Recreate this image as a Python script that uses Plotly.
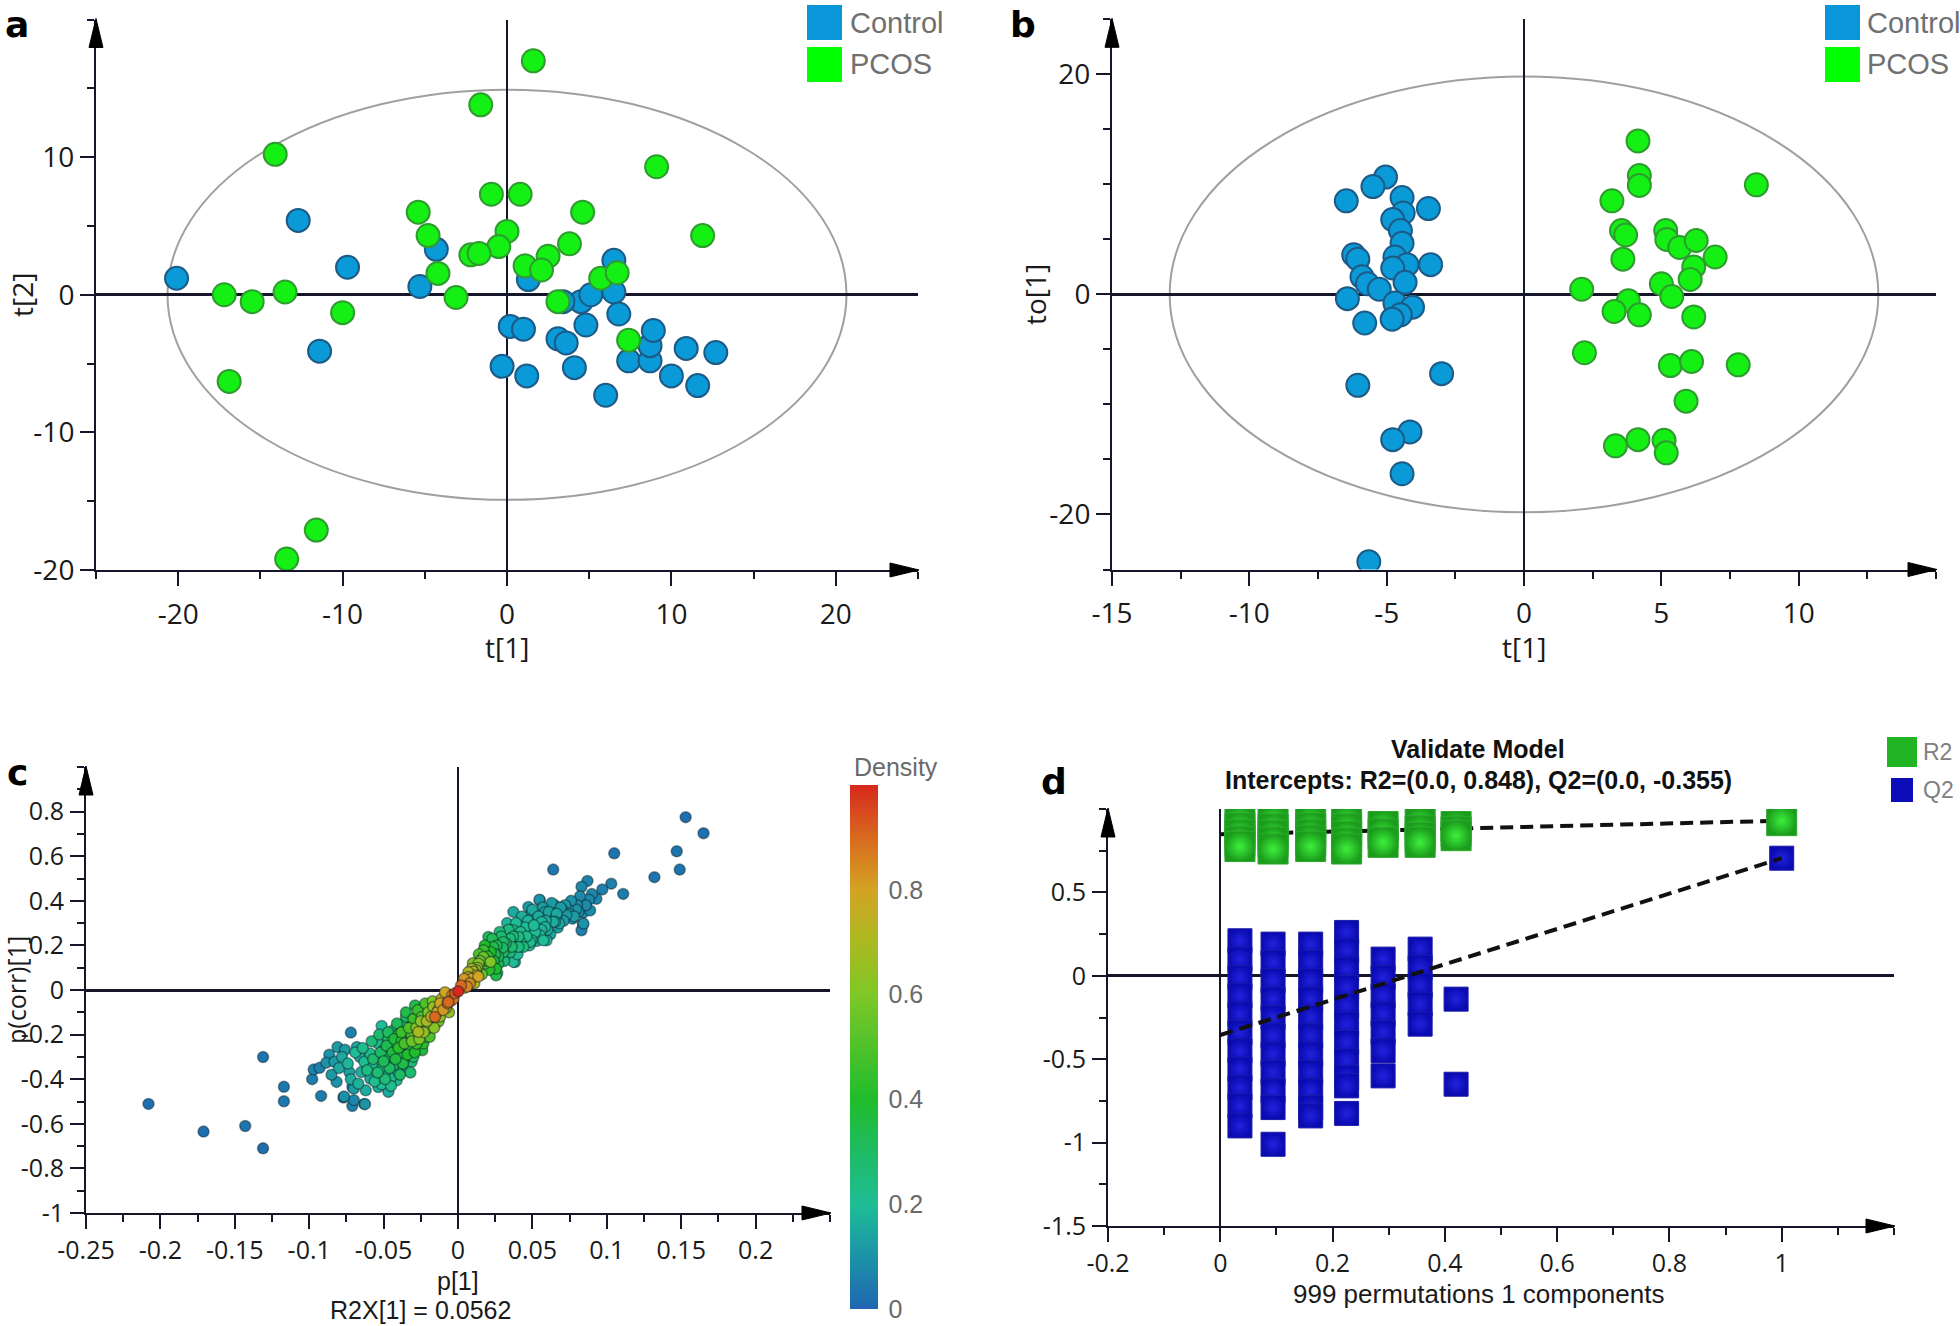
import plotly.graph_objects as go
import numpy as np

W, H = 1960, 1326
OFF = 0   # body margin is removed by the post script below

# ---------------- Panel a : PCA score plot ----------------
A_CTRL_T1 = [-20.1, -12.7, -9.7, -11.4, -5.3, -4.3, 1.3, 0.2, 1.0, -0.3, 1.2, 3.1, 3.6, 4.1, 4.8,
             4.5, 5.1, 3.4, 6.5, 6.5, 6.8, 6.0, 7.4, 8.7, 8.7, 8.9, 10.0, 10.9, 11.6, 12.7]
A_CTRL_T2 = [1.2, 5.4, 2.0, -4.1, 0.6, 3.3, 1.1, -2.3, -2.5, -5.2, -5.9, -3.2, -3.5, -5.3, -2.2,
             -0.5, 0.0, -0.5, 2.5, 0.2, -1.4, -7.3, -4.8, -4.8, -3.7, -2.6, -5.9, -3.9, -6.6, -4.2]
A_PCOS_T1 = [1.6, -1.6, -14.1, 9.1, -0.95, 0.8, -5.4, 4.6, -4.8, 0.0, -0.5, 11.9, 3.8, -2.2, -1.7, 2.5,
             1.1, 2.1, -4.2, 5.7, 6.7, -17.2, -15.5, -13.5, -3.1, -10.0, 3.1, 7.4, -16.9, -11.6, -13.4]
A_PCOS_T2 = [17.0, 13.8, 10.2, 9.3, 7.3, 7.3, 6.0, 6.0, 4.3, 4.6, 3.5, 4.3, 3.7, 2.9, 3.0, 2.8,
             2.1, 1.8, 1.55, 1.2, 1.6, 0.0, -0.5, 0.2, -0.2, -1.3, -0.5, -3.3, -6.3, -17.1, -19.2]
A_ELLIPSE = [20.65, 14.9]          # Hotelling T2 (95%) semi-axes
A_XTICKS = [-20, -10, 0, 10, 20]
A_XTEXT = ['-20', '-10', '0', '10', '20']
A_YTICKS = [-20, -10, 0, 10]
A_YTEXT = ['-20', '-10', '0', '10']

# ---------------- Panel b : OPLS-DA score plot ----------------
B_CTRL_T1 = [-5.04, -5.5, -6.47, -4.44, -4.4, -3.48, -4.78, -4.5, -4.44, -6.2, -6.05, -4.7, -4.26, -3.4,
             -4.78, -5.9, -5.7, -5.27, -4.33, -6.43, -4.7, -4.06, -4.5, -4.8, -5.8, -3.0, -6.05, -4.15,
             -4.78, -4.44, -5.65]
B_CTRL_TO1 = [10.66, 9.8, 8.5, 8.8, 7.4, 7.8, 6.8, 5.8, 4.65, 3.6, 3.2, 3.4, 2.7, 2.7, 2.4, 1.6, 0.97,
              0.47, 1.1, -0.39, -0.78, -1.16, -1.86, -2.25, -2.6, -7.2, -8.26, -12.5, -13.2, -16.3, -24.3]
B_PCOS_T1 = [4.15, 4.2, 4.2, 8.46, 3.2, 3.55, 3.7, 5.16, 5.2, 5.67, 6.27, 6.96, 3.6, 6.18, 6.05, 5.0,
             5.38, 2.1, 3.8, 3.28, 4.2, 6.18, 2.2, 5.33, 6.1, 7.8, 5.9, 3.33, 4.15, 5.1, 5.18]
B_PCOS_TO1 = [13.95, 10.8, 9.9, 9.96, 8.5, 5.8, 5.4, 5.8, 5.0, 4.26, 4.9, 3.4, 3.2, 2.5, 1.36, 0.97,
              -0.19, 0.47, -0.58, -1.55, -1.86, -2.05, -5.3, -6.47, -6.1, -6.4, -9.7, -13.76, -13.2,
              -13.26, -14.4]
B_ELLIPSE = [12.9, 19.8]
B_XTICKS = [-15, -10, -5, 0, 5, 10]
B_XTEXT = ['-15', '-10', '-5', '0', '5', '10']
B_YTICKS = [-20, 0, 20]
B_YTEXT = ['-20', '0', '20']

# ---------------- Panel c : S-plot (p[1], p(corr)[1], density) ----------------
# outliers
C_P1_OUT = [-0.208, -0.171, -0.143, -0.131, -0.131, -0.117, -0.117, -0.098, -0.097, -0.093, -0.092, -0.072,
            -0.077, -0.071, -0.071, -0.070, -0.063,
            0.153, 0.165, 0.147, 0.149, 0.105, 0.064, 0.132, 0.111, 0.103, 0.087, 0.083, 0.097, 0.093, 0.088,
            0.084, 0.084, 0.083, 0.055]
C_PCORR_OUT = [-0.511, -0.635, -0.610, -0.710, -0.301, -0.434, -0.499, -0.400, -0.357, -0.349, -0.475,
               -0.191, -0.482, -0.520, -0.434, -0.494, -0.511,
               0.775, 0.703, 0.622, 0.540, 0.613, 0.540, 0.506, 0.431, 0.477, 0.489, 0.463, 0.451, 0.409,
               0.405, 0.346, 0.295, 0.268, 0.402]
C_DENS_OUT = [0.02, 0.02, 0.03, 0.02, 0.03, 0.04, 0.04, 0.05, 0.06, 0.06, 0.05, 0.06, 0.07, 0.06, 0.08,
              0.07, 0.07,
              0.02, 0.02, 0.03, 0.03, 0.03, 0.04, 0.03, 0.05, 0.06, 0.06, 0.07, 0.06, 0.07, 0.08, 0.08, 0.06,
              0.06, 0.07]
# lower (negative) band
C_P1_NEG = [-0.0865, -0.081, -0.076, -0.0885, -0.083, -0.0816, -0.0765, -0.070, -0.0625, -0.068, -0.073,
            -0.065, -0.059, -0.0536, -0.0513, -0.0468, -0.066,
            -0.063, -0.059, -0.0536, -0.0513, -0.0573, -0.0506, -0.0446, -0.0412, -0.0401, -0.0435, -0.0457,
            -0.0424, -0.0468, -0.0435, -0.0368, -0.0357, -0.0345, -0.0312, -0.0368, -0.029, -0.0278, -0.0289,
            -0.0379, -0.0312, -0.0237, -0.0244, -0.0278, -0.021, -0.0188, -0.0267, -0.0278, -0.0233, -0.020,
            -0.0166, -0.0133, -0.011, -0.0087, -0.004, -0.0155, -0.0065, 0.0002,
            -0.045, -0.038, -0.033, -0.025, -0.015, -0.012, -0.008, -0.005, -0.02, -0.03, -0.035, -0.04,
            -0.05, -0.055, -0.06, -0.048, -0.037, -0.03,
            -0.085, -0.080, -0.078, -0.074, -0.072, -0.069, -0.067, -0.064, -0.062, -0.061, -0.058, -0.057,
            -0.056, -0.054, -0.053, -0.052, -0.050, -0.049, -0.048, -0.047, -0.046, -0.045, -0.044, -0.043,
            -0.042, -0.041, -0.040, -0.039, -0.038, -0.037, -0.036, -0.035, -0.034, -0.033, -0.032, -0.031,
            -0.030, -0.029, -0.028, -0.027, -0.026, -0.025, -0.024, -0.023, -0.022, -0.021, -0.019, -0.018,
            -0.017, -0.016, -0.014, -0.013, -0.012, -0.010, -0.009, -0.007, -0.006, -0.003, -0.002]
C_PCORR_NEG = [-0.290, -0.256, -0.268, -0.326, -0.322, -0.412, -0.478, -0.442, -0.512, -0.256, -0.368,
               -0.368, -0.397, -0.435, -0.423, -0.457, -0.300,
               -0.322, -0.285, -0.240, -0.161, -0.345, -0.345, -0.390, -0.405, -0.368, -0.337, -0.292, -0.262,
               -0.222, -0.181, -0.154, -0.218, -0.278, -0.322, -0.322, -0.256, -0.203, -0.069, -0.226, -0.203,
               -0.166, -0.121, -0.121, -0.211, -0.166, -0.188, -0.241, -0.240, -0.100, -0.076, -0.090, -0.039,
               -0.010, -0.024, -0.121, -0.054, -0.006,
               -0.31, -0.29, -0.25, -0.20, -0.15, -0.12, -0.08, -0.05, -0.17, -0.15, -0.12, -0.20, -0.27,
               -0.30, -0.34, -0.36, -0.36, -0.30,
               -0.38, -0.35, -0.30, -0.33, -0.40, -0.28, -0.42, -0.26, -0.45, -0.36, -0.23, -0.31,
               -0.41, -0.37, -0.20, -0.28, -0.32, -0.40, -0.25, -0.19, -0.35, -0.43, -0.28, -0.22,
               -0.31, -0.15, -0.26, -0.38, -0.19, -0.33, -0.24, -0.10, -0.29, -0.17, -0.37, -0.23,
               -0.13, -0.28, -0.17, -0.09, -0.22, -0.14, -0.27, -0.19, -0.06, -0.14, -0.21, -0.12,
               -0.05, -0.17, -0.10, -0.14, -0.06, -0.09, -0.03, -0.06, -0.10, -0.04, -0.015]
C_DENS_NEG = [0.10, 0.12, 0.12, 0.10, 0.12, 0.10, 0.09, 0.12, 0.10, 0.15, 0.14, 0.17, 0.16, 0.18, 0.20,
              0.15, 0.16,
              0.20, 0.22, 0.24, 0.20, 0.22, 0.25, 0.22, 0.20, 0.26, 0.30, 0.30, 0.32, 0.30, 0.28, 0.30, 0.38,
              0.30, 0.26, 0.28, 0.35, 0.45, 0.35, 0.40, 0.50, 0.55, 0.50, 0.45, 0.50, 0.62, 0.70, 0.45, 0.42,
              0.60, 0.65, 0.75, 0.78, 0.80, 0.85, 0.90, 0.90, 1.00,
              0.25, 0.30, 0.35, 0.50, 0.55, 0.65, 0.72, 0.80, 0.60, 0.40, 0.30, 0.35, 0.25, 0.20, 0.18, 0.22,
              0.23, 0.30,
              0.12, 0.15, 0.15, 0.18, 0.16, 0.20, 0.17, 0.22, 0.16, 0.24, 0.25, 0.28,
              0.22, 0.27, 0.28, 0.30, 0.32, 0.26, 0.33, 0.30, 0.30, 0.22, 0.36, 0.38,
              0.36, 0.32, 0.42, 0.30, 0.45, 0.35, 0.48, 0.35, 0.40, 0.50, 0.28, 0.55,
              0.45, 0.40, 0.60, 0.45, 0.60, 0.62, 0.38, 0.65, 0.50, 0.70, 0.50, 0.72,
              0.60, 0.62, 0.78, 0.60, 0.80, 0.82, 0.75, 0.86, 0.65, 0.88, 0.92]
# upper (positive) band
C_P1_POS = [0.0036, 0.0069, 0.0126, 0.0092, 0.0137, 0.017, 0.0182, 0.0172, 0.0237, 0.0256, 0.0256, 0.0204,
            0.0305, 0.0305, 0.0372, 0.0383, 0.0361, 0.042, 0.0439, 0.0495, 0.0495, 0.055, 0.0595, 0.0562,
            0.064, 0.068, 0.0372, 0.0473, 0.0495, 0.0547, 0.0585, 0.0663, 0.072, 0.0741, 0.081, 0.0888,
            0.0843, 0.0652, 0.0574, 0.0518, 0.0484, 0.0406, 0.0406, 0.0372, 0.0271, 0.0264, 0.0174, 0.0219,
            0.0136, 0.0103, 0.0058, 0.0045, 0.008, 0.012, 0.015, 0.02, 0.025, 0.03, 0.035, 0.045, 0.033,
            0.028, 0.06, 0.07, 0.078, 0.065, 0.0717, 0.0728, 0.0795, 0.0585,
            0.002, 0.004, 0.006, 0.007, 0.009, 0.010, 0.011, 0.013, 0.014, 0.016, 0.018, 0.019,
            0.021, 0.022, 0.023, 0.024, 0.026, 0.027, 0.029, 0.031, 0.032, 0.034, 0.035, 0.037,
            0.039, 0.040, 0.042, 0.043, 0.046, 0.047, 0.048, 0.050, 0.051, 0.053, 0.054, 0.056,
            0.057, 0.059, 0.061, 0.062, 0.063, 0.066, 0.067, 0.069, 0.071, 0.074, 0.076, 0.077,
            0.080, 0.082, 0.086, 0.090]
C_PCORR_POS = [0.036, 0.058, 0.066, 0.095, 0.118, 0.148, 0.118, 0.178, 0.193, 0.095, 0.066, 0.238, 0.215,
               0.170, 0.268, 0.125, 0.193, 0.215, 0.193, 0.268, 0.223, 0.245, 0.223, 0.305, 0.305, 0.298,
               0.350, 0.372, 0.342, 0.405, 0.350, 0.342, 0.380, 0.342, 0.350, 0.357, 0.298, 0.306, 0.223,
               0.260, 0.215, 0.238, 0.193, 0.126, 0.117, 0.076, 0.171, 0.126, 0.060, 0.083, 0.038, 0.010,
               0.030, 0.090, 0.130, 0.150, 0.160, 0.190, 0.230, 0.280, 0.300, 0.260, 0.270, 0.360, 0.330,
               0.380, 0.376, 0.336, 0.361, 0.283,
               0.02, 0.05, 0.015, 0.08, 0.05, 0.12, 0.03, 0.10, 0.16, 0.07, 0.20, 0.13,
               0.09, 0.17, 0.23, 0.13, 0.20, 0.15, 0.24, 0.13, 0.21, 0.27, 0.17, 0.24,
               0.30, 0.16, 0.26, 0.33, 0.24, 0.31, 0.20, 0.36, 0.29, 0.22, 0.33, 0.27,
               0.37, 0.31, 0.35, 0.25, 0.39, 0.33, 0.28, 0.37, 0.31, 0.36, 0.40, 0.32,
               0.38, 0.42, 0.38, 0.43]
C_DENS_POS = [0.80, 0.78, 0.76, 0.70, 0.62, 0.55, 0.50, 0.45, 0.35, 0.40, 0.35, 0.30, 0.30, 0.30, 0.22, 0.20,
              0.28, 0.25, 0.25, 0.20, 0.22, 0.20, 0.18, 0.18, 0.16, 0.15, 0.15, 0.12, 0.14, 0.10, 0.14, 0.15,
              0.12, 0.12, 0.10, 0.08, 0.10, 0.15, 0.20, 0.20, 0.22, 0.25, 0.25, 0.20, 0.30, 0.22, 0.40, 0.60,
              0.80, 0.72, 0.75, 0.82, 0.85, 0.68, 0.55, 0.45, 0.35, 0.30, 0.26, 0.20, 0.18, 0.25, 0.18, 0.12,
              0.12, 0.12, 0.10, 0.12, 0.10, 0.18,
              0.90, 0.82, 0.85, 0.72, 0.78, 0.60, 0.70, 0.62, 0.50, 0.55, 0.40, 0.50,
              0.42, 0.40, 0.32, 0.38, 0.32, 0.32, 0.28, 0.25, 0.28, 0.24, 0.26, 0.25,
              0.20, 0.20, 0.22, 0.17, 0.22, 0.18, 0.20, 0.15, 0.20, 0.18, 0.16, 0.18,
              0.13, 0.16, 0.14, 0.15, 0.12, 0.14, 0.14, 0.12, 0.12, 0.11, 0.10, 0.10,
              0.09, 0.08, 0.08, 0.07]
C_R2X = 0.0562
C_XTICKS = [-0.25, -0.2, -0.15, -0.1, -0.05, 0, 0.05, 0.1, 0.15, 0.2]
C_XTEXT = ['-0.25', '-0.2', '-0.15', '-0.1', '-0.05', '0', '0.05', '0.1', '0.15', '0.2']
C_YTICKS = [-1, -0.8, -0.6, -0.4, -0.2, 0, 0.2, 0.4, 0.6, 0.8]
C_YTEXT = ['-1', '-0.8', '-0.6', '-0.4', '-0.2', '0', '0.2', '0.4', '0.6', '0.8']
CB_TICKS = [0, 0.2, 0.4, 0.6, 0.8]
CB_TEXT = ['0', '0.2', '0.4', '0.6', '0.8']

# ---------------- Panel d : permutation test ----------------
D_R2_X = [0.035] * 5 + [0.094] * 5 + [0.161] * 5 + [0.225] * 5 + [0.29] * 3 + [0.356] * 4 + [0.42] * 3
D_R2_Y = [0.925, 0.885, 0.845, 0.805, 0.775,
          0.925, 0.88, 0.84, 0.80, 0.76,
          0.925, 0.885, 0.845, 0.81, 0.775,
          0.925, 0.88, 0.835, 0.795, 0.76,
          0.895, 0.85, 0.80,
          0.915, 0.87, 0.83, 0.80,
          0.895, 0.865, 0.84]
D_Q2_X = [0.035] * 11 + [0.094] * 11 + [0.161] * 11 + [0.225] * 11 + [0.29] * 7 + [0.356] * 5 + [0.42] * 2
D_Q2_Y = [0.21, 0.10, -0.01, -0.12, -0.23, -0.34, -0.45, -0.56, -0.67, -0.78, -0.90,
          0.19, 0.08, -0.03, -0.14, -0.25, -0.36, -0.47, -0.58, -0.69, -0.79, -1.01,
          0.19, 0.08, -0.03, -0.14, -0.25, -0.36, -0.47, -0.58, -0.69, -0.79, -0.84,
          0.26, 0.15, 0.04, -0.07, -0.18, -0.29, -0.40, -0.51, -0.61, -0.66, -0.825,
          0.10, -0.01, -0.12, -0.23, -0.34, -0.45, -0.60,
          0.16, 0.05, -0.06, -0.17, -0.29,
          -0.14, -0.65]
D_R2_ORIG = [1.0, 0.93]
D_Q2_ORIG = [1.0, 0.705]
D_R2_INTERCEPT = 0.848
D_Q2_INTERCEPT = -0.355
D_XTICKS = [-0.2, 0, 0.2, 0.4, 0.6, 0.8, 1]
D_XTEXT = ['-0.2', '0', '0.2', '0.4', '0.6', '0.8', '1']
D_YTICKS = [-1.5, -1, -0.5, 0, 0.5]
D_YTEXT = ['-1.5', '-1', '-0.5', '0', '0.5']
D_PERMS = 999

# ---------------- styling ----------------
AX = '#16162a'
TICKFONT = 'Open Sans, Liberation Sans, Arial, sans-serif'
ARIAL = 'Liberation Sans, Arial, sans-serif'
BLUE_FILL, BLUE_LINE = '#0a9ad8', '#1d5a86'
GREEN_FILL, GREEN_LINE = '#14f014', '#2e9c2e'


def px(x):
    return (x - OFF) / W


def py(y):
    return 1 - (y - OFF) / H


# panel geometry in pixels (left, right, top, bottom)
GEOM = {
    'a': (96, 918, 19.5, 570),
    'b': (1112, 1936, 19.3, 569.5),
    'c': (86, 830, 767, 1213),
    'd': (1108, 1894, 809, 1226),
}


def axis(dom, rng, tickvals, ticktext, size, minor_dtick, minor_tick0, anchor, zw, standoff):
    return dict(
        domain=dom, range=rng, anchor=anchor, autorange=False, automargin=False,
        showline=True, linecolor=AX, linewidth=2,
        ticks='outside', ticklen=14, tickwidth=2, tickcolor=AX,
        tickmode='array', tickvals=tickvals, ticktext=ticktext,
        tickfont=dict(family=TICKFONT, size=size, color='#1a1a1a'),
        ticklabelstandoff=standoff,
        showgrid=False, zeroline=True, zerolinecolor=AX, zerolinewidth=zw,
        minor=dict(tickmode='linear', tick0=minor_tick0, dtick=minor_dtick,
                   ticks='outside', ticklen=7, tickwidth=1.5, tickcolor=AX, showgrid=False),
    )


def xdom(k):
    l, r, t, b = GEOM[k]
    return [px(l), px(r)]


def ydom(k):
    l, r, t, b = GEOM[k]
    return [py(b), py(t)]


fig = go.Figure()

# ---- panel a traces
fig.add_trace(go.Scatter(x=A_CTRL_T1, y=A_CTRL_T2, mode='markers', xaxis='x', yaxis='y',
                         marker=dict(size=23, color=BLUE_FILL, line=dict(color=BLUE_LINE, width=2)),
                         name='Control', showlegend=False))
fig.add_trace(go.Scatter(x=A_PCOS_T1, y=A_PCOS_T2, mode='markers', xaxis='x', yaxis='y',
                         marker=dict(size=23, color=GREEN_FILL, line=dict(color=GREEN_LINE, width=2)),
                         name='PCOS', showlegend=False))
# ---- panel b traces
fig.add_trace(go.Scatter(x=B_CTRL_T1, y=B_CTRL_TO1, mode='markers', xaxis='x2', yaxis='y2',
                         marker=dict(size=23, color=BLUE_FILL, line=dict(color=BLUE_LINE, width=2)),
                         name='Control', showlegend=False))
fig.add_trace(go.Scatter(x=B_PCOS_T1, y=B_PCOS_TO1, mode='markers', xaxis='x2', yaxis='y2',
                         marker=dict(size=23, color=GREEN_FILL, line=dict(color=GREEN_LINE, width=2)),
                         name='PCOS', showlegend=False))

# ---- panel c trace (sorted so dense points are on top)
c_p1 = np.array(C_P1_OUT + C_P1_NEG + C_P1_POS)
c_pc = np.array(C_PCORR_OUT + C_PCORR_NEG + C_PCORR_POS)
c_d = np.array(C_DENS_OUT + C_DENS_NEG + C_DENS_POS)
order = np.argsort(c_d, kind='stable')
COLORSCALE = [[0.0, '#1f66b2'], [0.1, '#1c93a8'], [0.2, '#1fbd96'], [0.3, '#1fbb62'],
              [0.4, '#1fbd2c'], [0.5, '#4fc22a'], [0.6, '#7fc726'], [0.7, '#aab922'],
              [0.8, '#d3a323'], [0.9, '#d9691f'], [1.0, '#d7281e']]
l, r, t, b = 850, 878, 785, 1309
fig.add_trace(go.Scatter(
    x=c_p1[order], y=c_pc[order], mode='markers', xaxis='x3', yaxis='y3', showlegend=False,
    marker=dict(size=11, color=c_d[order], colorscale=COLORSCALE, cmin=0, cmax=1,
                line=dict(color='rgba(10,30,40,0.45)', width=1.5),
                colorbar=dict(x=px(l), xanchor='left', y=py(b), yanchor='bottom',
                              lenmode='pixels', len=b - t, thicknessmode='pixels', thickness=r - l,
                              xpad=0, ypad=0, outlinewidth=0, tickmode='array',
                              tickvals=CB_TICKS, ticktext=CB_TEXT, ticks='outside', ticklen=6,
                              tickcolor='rgba(0,0,0,0)',
                              tickfont=dict(family=ARIAL, size=25, color='#6a6a6a'))),
))

# ---- panel d traces
QMARK = dict(symbol='square', size=24, color='#0a0ab0', gradient=dict(type='radial', color='#2222dd'),
             line=dict(color='#1a1aa8', width=1))
fig.add_trace(go.Scatter(x=D_Q2_X, y=D_Q2_Y, mode='markers', xaxis='x4', yaxis='y4', showlegend=False,
                         marker=QMARK))
fig.add_trace(go.Scatter(x=[D_Q2_ORIG[0]], y=[D_Q2_ORIG[1]], mode='markers', xaxis='x4', yaxis='y4',
                         showlegend=False, marker=QMARK))
fig.add_trace(go.Scatter(x=[0, D_R2_ORIG[0]], y=[D_R2_INTERCEPT, D_R2_ORIG[1]], mode='lines',
                         xaxis='x4', yaxis='y4', showlegend=False,
                         line=dict(color='#111111', width=4, dash='13px,7px')))
fig.add_trace(go.Scatter(x=[0, D_Q2_ORIG[0]], y=[D_Q2_INTERCEPT, D_Q2_ORIG[1]], mode='lines',
                         xaxis='x4', yaxis='y4', showlegend=False,
                         line=dict(color='#111111', width=4, dash='13px,7px')))
fig.add_trace(go.Scatter(x=D_R2_X + [D_R2_ORIG[0]], y=D_R2_Y + [D_R2_ORIG[1]], mode='markers',
                         xaxis='x4', yaxis='y4', showlegend=False,
                         marker=dict(symbol='square', size=30, color='#1c9c1c',
                                     gradient=dict(type='radial', color='#3cf03c'),
                                     line=dict(color='#2aa82a', width=1))))

# ---- axes
fig.update_layout(
    xaxis=axis(xdom('a'), [-25, 25], A_XTICKS, A_XTEXT, 28, 5, -25, 'y', 2, 4),
    yaxis=axis(ydom('a'), [-20, 20], A_YTICKS, A_YTEXT, 28, 5, -20, 'x', 2.5, 0),
    xaxis2=axis(xdom('b'), [-15, 15], B_XTICKS, B_XTEXT, 28, 2.5, -15, 'y2', 2, 4),
    yaxis2=axis(ydom('b'), [-25, 25], B_YTICKS, B_YTEXT, 28, 5, -25, 'x2', 2.5, 0),
    xaxis3=axis(xdom('c'), [-0.25, 0.25], C_XTICKS, C_XTEXT, 25, 0.025, -0.25, 'y3', 2, 0),
    yaxis3=axis(ydom('c'), [-1, 1], C_YTICKS, C_YTEXT, 25, 0.1, -1, 'x3', 2.5, 1),
    xaxis4=axis(xdom('d'), [-0.2, 1.2], D_XTICKS, D_XTEXT, 25, 0.1, -0.2, 'y4', 2, 0),
    yaxis4=axis(ydom('d'), [-1.5, 1.0], D_YTICKS, D_YTEXT, 25, 0.25, -1.5, 'x4', 2.5, 1),
)

shapes = []
# confidence ellipses
shapes.append(dict(type='circle', xref='x', yref='y', x0=-A_ELLIPSE[0], x1=A_ELLIPSE[0],
                   y0=-A_ELLIPSE[1], y1=A_ELLIPSE[1], line=dict(color='#a0a0a0', width=2), layer='below'))
shapes.append(dict(type='circle', xref='x2', yref='y2', x0=-B_ELLIPSE[0], x1=B_ELLIPSE[0],
                   y0=-B_ELLIPSE[1], y1=B_ELLIPSE[1], line=dict(color='#a0a0a0', width=2), layer='below'))


def tri(points):
    d = 'M ' + ' L '.join('%.5f %.5f' % (px(x), py(y)) for x, y in points) + ' Z'
    return dict(type='path', xref='paper', yref='paper', path=d, fillcolor='#000000',
                line=dict(color='#000000', width=1), layer='above')


for k in 'abcd':
    l, r, t, b = GEOM[k]
    shapes.append(tri([(l - 7, t + 28), (l + 7, t + 28), (l, t - 1)]))
    shapes.append(tri([(r - 28, b - 7), (r - 28, b + 7), (r + 1, b)]))


def rect(x0, y0, x1, y1, color):
    return dict(type='rect', xref='paper', yref='paper', x0=px(x0), x1=px(x1), y0=py(y1), y1=py(y0),
                fillcolor=color, line=dict(width=0), layer='above')


# legends of a and b
for ox in (807, 1825):
    shapes.append(rect(ox, 5, ox + 35, 40, '#0a97d9'))
    shapes.append(rect(ox, 47, ox + 35, 82, '#00ff00'))
# legend of d
shapes.append(rect(1887, 737, 1917, 767, '#22b422'))
shapes.append(rect(1891, 778, 1913, 802, '#0c0cb8'))

ann = []


def text(s, x, y, size, color='#1a1a1a', family=TICKFONT, angle=0, xanchor='center'):
    ann.append(dict(text=s, x=px(x), y=py(y), xref='paper', yref='paper', showarrow=False,
                    xanchor=xanchor, yanchor='middle', textangle=angle,
                    font=dict(size=size, color=color, family=family)))


# axis titles
text('t[1]', 507, 647, 28)
text('t[2]', 22, 295, 28, angle=-90)
text('t[1]', 1524, 647, 28)
text('to[1]', 1035, 295, 28, angle=-90)
text('p[1]', 458, 1281, 25, family=ARIAL)
text('R2X[1] = %s' % C_R2X, 420, 1310, 25, family=ARIAL)
text('p(corr)[1]', 16, 990, 25, angle=-90)
text('%d permutations 1 components' % D_PERMS, 1478, 1294, 26, family=ARIAL)
text('<b>Validate Model</b>', 1478, 749, 25, color='#111111', family=ARIAL)
text('<b>Intercepts: R2=(0.0, %s), Q2=(0.0, %s)</b>' % (D_R2_INTERCEPT, D_Q2_INTERCEPT),
     1478, 780, 25, color='#111111', family=ARIAL)
text('Density', 896, 767, 25, color='#6a6a6a', family=ARIAL)
# legends
for ox in (848, 1865):
    text('Control', ox, 23, 29, color='#707070', family=ARIAL, xanchor='left')
    text('PCOS', ox, 64, 29, color='#707070', family=ARIAL, xanchor='left')
text('R2', 1921, 752, 23, color='#808080', family=ARIAL, xanchor='left')
text('Q2', 1921, 790, 23, color='#808080', family=ARIAL, xanchor='left')
# panel labels
for lab, x, y in (('a', 17, 24), ('b', 1023, 24), ('c', 17, 772), ('d', 1054, 781)):
    text('<b>%s</b>' % lab, x, y, 36, color='#000000', family='DejaVu Sans, Arial, sans-serif')

fig.update_layout(width=W, height=H, autosize=False,
                  margin=dict(l=0, r=0, t=0, b=0, pad=0, autoexpand=False),
                  paper_bgcolor='white', plot_bgcolor='white', showlegend=False,
                  shapes=shapes, annotations=ann)

fig.write_html('out.html', config={'displayModeBar': False},
               post_script="document.body.style.margin='0px';document.body.style.overflow='hidden';")
